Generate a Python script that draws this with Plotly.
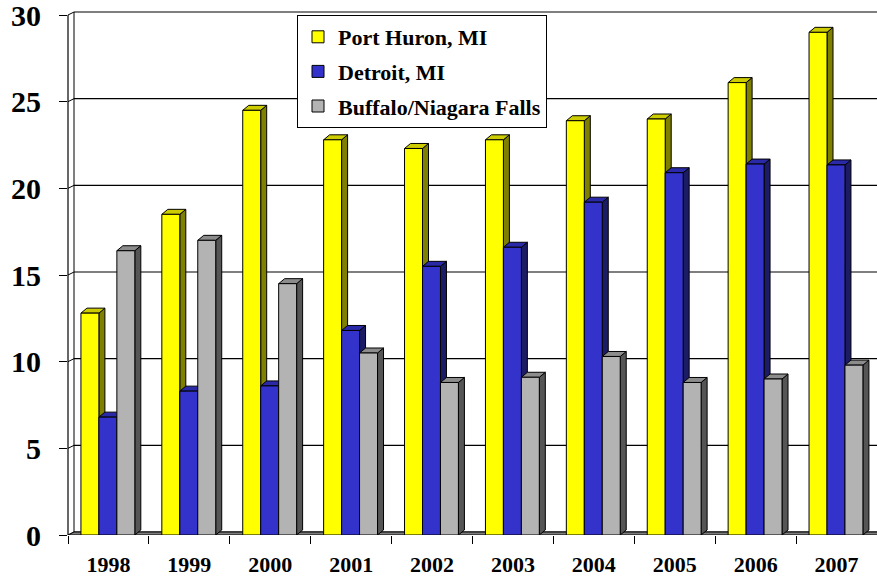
import plotly.graph_objects as go

years = ["1998", "1999", "2000", "2001", "2002", "2003", "2004", "2005", "2006", "2007"]
port_huron = [12.8, 18.5, 24.5, 22.8, 22.3, 22.8, 23.9, 24.0, 26.1, 29.0]
detroit = [6.8, 8.3, 8.6, 11.8, 15.5, 16.6, 19.2, 20.9, 21.4, 21.35]
buffalo = [16.4, 17.0, 14.5, 10.5, 8.8, 9.1, 10.3, 8.8, 9.0, 9.8]
y_ticks = [0, 5, 10, 15, 20, 25, 30]

series = [
    ("Port Huron, MI", port_huron, "#FFFF00", "#CCCC00", "#808000"),
    ("Detroit, MI", detroit, "#3333CC", "#2A2AA8", "#1C1C66"),
    ("Buffalo/Niagara Falls", buffalo, "#B3B3B3", "#8C8C8C", "#555555"),
]

W, H = 877, 577
ML, MR, MT, MB = 68, 0, 10, 42
PX_X = (W - ML - MR) / 10.0          # pixels per category unit
PX_Y = (535 - 15) / 30.0             # pixels per value unit
y_top = (H - MT - MB) / PX_Y

bar_w = 0.222
offsets = [-0.34, -0.118, 0.104]
bdx, bdy = 6 / PX_X, 5 / PX_Y        # bar depth
wdx, wdy = 6 / PX_X, 3 / PX_Y        # wall depth

fig = go.Figure()
shapes = []

# back wall gridlines, connectors, left wall
for v in y_ticks:
    shapes.append(dict(type="line", xref="x", yref="y", x0=-0.5 + wdx, x1=9.6,
                       y0=v + wdy, y1=v + wdy, line=dict(color="black", width=1.2), layer="between"))
    shapes.append(dict(type="line", xref="x", yref="y", x0=-0.5, x1=-0.5 + wdx,
                       y0=v, y1=v + wdy, line=dict(color="black", width=1), layer="between"))
shapes.append(dict(type="line", xref="x", yref="y", x0=-0.5 + wdx, x1=-0.5 + wdx,
                   y0=wdy, y1=y_ticks[-1] + wdy, line=dict(color="black", width=1), layer="between"))
# floor
shapes.append(dict(type="path", xref="x", yref="y",
                   path=f"M -0.5,0 L {-0.5 + wdx},{wdy} L 9.6,{wdy} L 9.6,0 Z",
                   fillcolor="#7F7F7F", line=dict(color="black", width=1), layer="between"))

# 3D side and top faces
for k, (name, vals, front, top, side) in enumerate(series):
    for i, v in enumerate(vals):
        x0 = i + offsets[k]
        x1 = x0 + bar_w
        shapes.append(dict(type="path", xref="x", yref="y",
                           path=f"M {x1},0 L {x1 + bdx},{bdy} L {x1 + bdx},{v + bdy} L {x1},{v} Z",
                           fillcolor=side, line=dict(color="black", width=1), layer="between"))
        shapes.append(dict(type="path", xref="x", yref="y",
                           path=f"M {x0},{v} L {x0 + bdx},{v + bdy} L {x1 + bdx},{v + bdy} L {x1},{v} Z",
                           fillcolor=top, line=dict(color="black", width=1), layer="between"))

# front y axis line
shapes.append(dict(type="line", xref="paper", yref="y", x0=0, x1=0, y0=0, y1=y_ticks[-1],
                   line=dict(color="black", width=1.2)))

for k, (name, vals, front, top, side) in enumerate(series):
    fig.add_trace(go.Bar(
        name=name, x=list(range(len(years))), y=vals, width=bar_w,
        offset=offsets[k], marker=dict(color=front, line=dict(color="black", width=1)),
        legendgroup=name,
    ))

font_family = "Liberation Serif"
fig.update_layout(
    width=W, height=H,
    margin=dict(l=ML, r=MR, t=MT, b=MB, autoexpand=False),
    paper_bgcolor="white", plot_bgcolor="white",
    barmode="overlay",
    showlegend=True,
    shapes=shapes,
    legend=dict(x=(297 - ML) / (W - ML - MR), y=1 - 5 / (H - MT - MB), xanchor="left", yanchor="top",
                bgcolor="white", bordercolor="black", borderwidth=1, itemwidth=30,
                font=dict(family=font_family, size=22, color="black", weight="bold"),
                tracegroupgap=3),
    xaxis=dict(range=[-0.5, 9.5], tickmode="array", tickvals=list(range(len(years))), ticktext=years,
               ticks="", showgrid=False, zeroline=False, showline=False, automargin=False,
               ticklabeloverflow="allow",
               tickfont=dict(family=font_family, size=22, color="black", weight="bold"),
               ticklabelstandoff=14,
               minor=dict(tickmode="array", tickvals=[i - 0.5 for i in range(len(years) + 1)],
                          ticks="outside", ticklen=8, tickcolor="black", tickwidth=1, showgrid=False)),
    yaxis=dict(range=[0, y_top], tickmode="array", tickvals=y_ticks, ticks="outside", ticklen=8,
               tickcolor="black", showgrid=False, zeroline=False, showline=False, automargin=False,
               ticklabeloverflow="allow",
               tickfont=dict(family=font_family, size=30, color="black", weight="bold"),
               ticklabelstandoff=12),
)

fig.write_html("out.html", config={"displayModeBar": False},
               post_script="document.body.style.margin='0';")
